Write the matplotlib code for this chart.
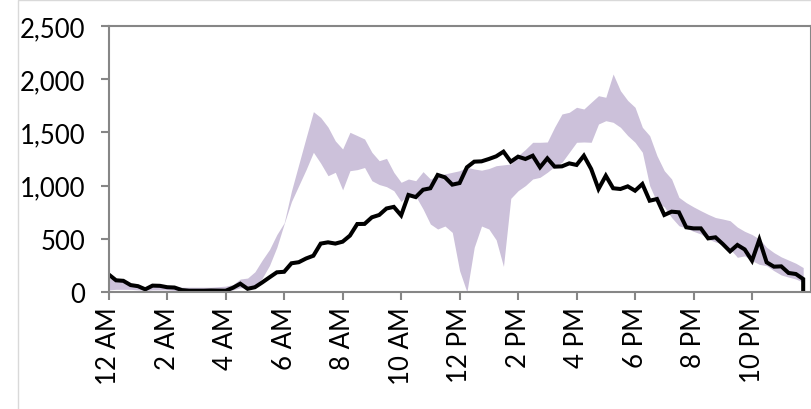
import numpy as np
import matplotlib.pyplot as plt
from matplotlib.patches import Rectangle

# 15-Minuten-Werte über den Tag (96 Intervalle)
hours = np.arange(96) / 4

actual = [
    165, 110, 105, 65, 55, 25, 60, 58, 45, 42, 18, 12, 12, 12, 14, 13,
    12, 40, 78, 30, 45, 90, 138, 185, 190, 270, 280, 315, 341, 455, 467, 455,
    473, 530, 639, 640, 702, 724, 785, 800, 720, 912, 892, 961, 975, 1100, 1078, 1009,
    1024, 1172, 1225, 1228, 1250, 1275, 1319, 1225, 1272, 1250, 1281, 1172, 1256, 1178, 1181, 1209,
    1194, 1281, 1156, 968, 1093, 975, 968, 993, 952, 1015, 858, 874, 724, 755, 749, 608,
    598, 598, 504, 514, 451, 382, 442, 400, 294, 492, 279, 238, 241, 179, 169, 122,
]

band_high = [
    130, 110, 100, 80, 60, 50, 55, 60, 55, 50, 45, 45, 45, 45, 45, 50,
    55, 70, 122, 131, 190, 300, 400, 540, 650, 950, 1200, 1450, 1695, 1640, 1550, 1420,
    1344, 1501, 1470, 1438, 1313, 1234, 1256, 1125, 1031, 1062, 1046, 1131, 1062, 1093, 1110, 1125,
    1140, 1172, 1156, 1145, 1160, 1187, 1195, 1203, 1281, 1340, 1407, 1407, 1410, 1550, 1673, 1689,
    1736, 1720, 1783, 1845, 1830, 2049, 1892, 1800, 1736, 1548, 1469, 1281, 1140, 1062, 890, 840,
    800, 764, 730, 700, 686, 670, 610, 570, 540, 498, 420, 370, 330, 300, 270, 230,
]

band_low = [
    20, 25, 25, 25, 20, 15, 20, 20, 20, 15, 10, 8, 8, 8, 8, 8,
    10, 20, 40, 40, 60, 130, 250, 420, 640, 850, 1000, 1150, 1313, 1210, 1093, 1125,
    960, 1140, 1150, 1170, 1046, 1010, 990, 952, 850, 921, 900, 780, 639, 592, 620, 560,
    200, 0, 420, 620, 592, 490, 240, 880, 952, 1000, 1062, 1078, 1125, 1180, 1219, 1313,
    1407, 1410, 1407, 1579, 1610, 1595, 1548, 1470, 1407, 1313, 999, 843, 800, 700, 623, 600,
    570, 545, 498, 470, 451, 404, 326, 340, 294, 260, 247, 200, 160, 140, 122, 91,
]

tick_hours = np.arange(0, 24, 2)
tick_labels = ["12 AM", "2 AM", "4 AM", "6 AM", "8 AM", "10 AM",
               "12 PM", "2 PM", "4 PM", "6 PM", "8 PM", "10 PM"]

plt.rcParams["font.family"] = ["Lato", "DejaVu Sans"]
axis_gray = "#868686"

fig = plt.figure(figsize=(8.12, 4.10), dpi=100)
fig.patches.append(Rectangle((18.5 / 812, -0.1), 1.2, (409 + 41) / 410, transform=fig.transFigure,
                             fill=False, edgecolor="#d9d9d9", linewidth=1))
ax = fig.add_axes([108.7 / 812, 1 - 293 / 410, (810.5 - 108.7) / 812, (293 - 27) / 410])

ax.fill_between(hours, band_low, band_high, color="#ccc1da", linewidth=0)
line_x = np.append(hours, hours[-1])
line_y = np.append(actual, 0)
ax.plot(line_x, line_y, color="black", linewidth=2.9, solid_joinstyle="miter")

ax.set_xlim(0, 24)
ax.set_ylim(0, 2500)
ax.set_yticks(range(0, 2501, 500))
ax.set_yticklabels([f"{v:,}" for v in range(0, 2501, 500)])
ax.set_xticks(tick_hours)
ax.set_xticklabels(tick_labels, rotation=90)

for side in ax.spines.values():
    side.set_color(axis_gray)
    side.set_linewidth(1.5)
ax.tick_params(axis="both", colors=axis_gray, labelcolor="black", labelsize=18.5,
               length=6, width=1.5, direction="out")
ax.tick_params(axis="y", pad=11)
ax.tick_params(axis="x", pad=4)

fig.savefig("out.png", dpi=100)
